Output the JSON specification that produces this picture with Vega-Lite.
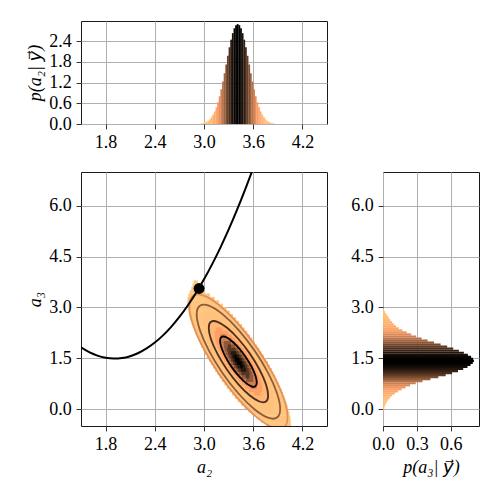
{
  "$schema": "https://vega.github.io/schema/vega-lite/v6.json",
  "background": "white",
  "padding": {"left": 25, "top": 20, "right": 0, "bottom": 0},
  "bounds": "flush",
  "columns": 2,
  "spacing": {"row": 48, "column": 56},
  "datasets": {
    "top": [
      {"lo":2.96,"hi":2.982,"f":0.017,"c":0.006},{"lo":2.98,"hi":3.002,"f":0.027,"c":0.009},{"lo":3.00,"hi":3.022,"f":0.042,"c":0.015},{"lo":3.02,"hi":3.042,"f":0.064,"c":0.022},{"lo":3.04,"hi":3.062,"f":0.094,"c":0.032},{"lo":3.06,"hi":3.082,"f":0.136,"c":0.047},{"lo":3.08,"hi":3.102,"f":0.193,"c":0.067},{"lo":3.10,"hi":3.122,"f":0.268,"c":0.092},{"lo":3.12,"hi":3.142,"f":0.364,"c":0.126},{"lo":3.14,"hi":3.162,"f":0.485,"c":0.167},{"lo":3.16,"hi":3.182,"f":0.632,"c":0.218},{"lo":3.18,"hi":3.202,"f":0.806,"c":0.278},{"lo":3.20,"hi":3.222,"f":1.007,"c":0.347},{"lo":3.22,"hi":3.242,"f":1.231,"c":0.424},{"lo":3.24,"hi":3.262,"f":1.473,"c":0.508},{"lo":3.26,"hi":3.282,"f":1.727,"c":0.595},{"lo":3.28,"hi":3.302,"f":1.981,"c":0.683},{"lo":3.30,"hi":3.322,"f":2.226,"c":0.768},{"lo":3.32,"hi":3.342,"f":2.448,"c":0.844},{"lo":3.34,"hi":3.362,"f":2.637,"c":0.909},{"lo":3.36,"hi":3.382,"f":2.780,"c":0.959},{"lo":3.38,"hi":3.402,"f":2.869,"c":0.989},{"lo":3.40,"hi":3.422,"f":2.900,"c":1.0},{"lo":3.42,"hi":3.442,"f":2.869,"c":0.989},{"lo":3.44,"hi":3.462,"f":2.780,"c":0.959},{"lo":3.46,"hi":3.482,"f":2.637,"c":0.909},{"lo":3.48,"hi":3.502,"f":2.448,"c":0.844},{"lo":3.50,"hi":3.522,"f":2.226,"c":0.768},{"lo":3.52,"hi":3.542,"f":1.981,"c":0.683},{"lo":3.54,"hi":3.562,"f":1.727,"c":0.595},{"lo":3.56,"hi":3.582,"f":1.473,"c":0.508},{"lo":3.58,"hi":3.602,"f":1.231,"c":0.424},{"lo":3.60,"hi":3.622,"f":1.007,"c":0.347},{"lo":3.62,"hi":3.642,"f":0.806,"c":0.278},{"lo":3.64,"hi":3.662,"f":0.632,"c":0.218},{"lo":3.66,"hi":3.682,"f":0.485,"c":0.167},{"lo":3.68,"hi":3.702,"f":0.364,"c":0.126},{"lo":3.70,"hi":3.722,"f":0.268,"c":0.092},{"lo":3.72,"hi":3.742,"f":0.193,"c":0.067},{"lo":3.74,"hi":3.762,"f":0.136,"c":0.047},{"lo":3.76,"hi":3.782,"f":0.094,"c":0.032},{"lo":3.78,"hi":3.802,"f":0.064,"c":0.022},{"lo":3.80,"hi":3.822,"f":0.042,"c":0.015},{"lo":3.82,"hi":3.842,"f":0.027,"c":0.009},{"lo":3.84,"hi":3.862,"f":0.017,"c":0.006}
    ],
    "side": [
      {"lo":-0.05,"hi":0.015,"f":0.006,"c":0.008},{"lo":0.01,"hi":0.075,"f":0.013,"c":0.016},{"lo":0.07,"hi":0.135,"f":0.019,"c":0.024},{"lo":0.13,"hi":0.195,"f":0.026,"c":0.033},{"lo":0.19,"hi":0.255,"f":0.035,"c":0.044},{"lo":0.25,"hi":0.315,"f":0.048,"c":0.06},{"lo":0.31,"hi":0.375,"f":0.063,"c":0.079},{"lo":0.37,"hi":0.435,"f":0.082,"c":0.103},{"lo":0.43,"hi":0.495,"f":0.105,"c":0.131},{"lo":0.49,"hi":0.555,"f":0.133,"c":0.166},{"lo":0.55,"hi":0.615,"f":0.165,"c":0.206},{"lo":0.61,"hi":0.675,"f":0.200,"c":0.25},{"lo":0.67,"hi":0.735,"f":0.240,"c":0.30},{"lo":0.73,"hi":0.795,"f":0.290,"c":0.363},{"lo":0.79,"hi":0.855,"f":0.350,"c":0.438},{"lo":0.85,"hi":0.915,"f":0.420,"c":0.525},{"lo":0.91,"hi":0.975,"f":0.490,"c":0.613},{"lo":0.97,"hi":1.035,"f":0.555,"c":0.694},{"lo":1.03,"hi":1.095,"f":0.612,"c":0.765},{"lo":1.09,"hi":1.155,"f":0.664,"c":0.83},{"lo":1.15,"hi":1.215,"f":0.710,"c":0.888},{"lo":1.21,"hi":1.275,"f":0.748,"c":0.935},{"lo":1.27,"hi":1.335,"f":0.775,"c":0.969},{"lo":1.33,"hi":1.395,"f":0.795,"c":0.994},{"lo":1.39,"hi":1.455,"f":0.805,"c":1.0},{"lo":1.45,"hi":1.515,"f":0.798,"c":0.991},{"lo":1.51,"hi":1.575,"f":0.780,"c":0.969},{"lo":1.57,"hi":1.635,"f":0.752,"c":0.934},{"lo":1.63,"hi":1.695,"f":0.716,"c":0.889},{"lo":1.69,"hi":1.755,"f":0.672,"c":0.835},{"lo":1.75,"hi":1.815,"f":0.622,"c":0.773},{"lo":1.81,"hi":1.875,"f":0.568,"c":0.706},{"lo":1.87,"hi":1.935,"f":0.510,"c":0.634},{"lo":1.93,"hi":1.995,"f":0.452,"c":0.561},{"lo":1.99,"hi":2.055,"f":0.395,"c":0.491},{"lo":2.05,"hi":2.115,"f":0.342,"c":0.425},{"lo":2.11,"hi":2.175,"f":0.293,"c":0.364},{"lo":2.17,"hi":2.235,"f":0.250,"c":0.311},{"lo":2.23,"hi":2.295,"f":0.210,"c":0.261},{"lo":2.29,"hi":2.355,"f":0.172,"c":0.214},{"lo":2.35,"hi":2.415,"f":0.140,"c":0.174},{"lo":2.41,"hi":2.475,"f":0.115,"c":0.143},{"lo":2.47,"hi":2.535,"f":0.096,"c":0.119},{"lo":2.53,"hi":2.595,"f":0.080,"c":0.099},{"lo":2.59,"hi":2.655,"f":0.066,"c":0.082},{"lo":2.65,"hi":2.715,"f":0.053,"c":0.066},{"lo":2.71,"hi":2.775,"f":0.041,"c":0.051},{"lo":2.77,"hi":2.835,"f":0.030,"c":0.037},{"lo":2.83,"hi":2.895,"f":0.018,"c":0.022},{"lo":2.89,"hi":2.95,"f":0.008,"c":0.01}
    ],
    "heat": [
      {"y1":-0.5,"y2":-0.39,"x1":3.760,"x2":4.060,"c":0.01},
      {"y1":-0.4,"y2":-0.29,"x1":3.700,"x2":4.058,"c":0.01},
      {"y1":-0.3,"y2":-0.19,"x1":3.645,"x2":4.052,"c":0.01},
      {"y1":-0.2,"y2":-0.09,"x1":3.592,"x2":4.044,"c":0.01},
      {"y1":-0.1,"y2":0.01,"x1":3.542,"x2":4.034,"c":0.01},{"y1":-0.1,"y2":0.01,"x1":3.736,"x2":3.816,"c":0.03},
      {"y1":0.0,"y2":0.11,"x1":3.495,"x2":4.022,"c":0.01},{"y1":0.0,"y2":0.11,"x1":3.656,"x2":3.848,"c":0.03},
      {"y1":0.1,"y2":0.21,"x1":3.450,"x2":4.008,"c":0.01},{"y1":0.1,"y2":0.21,"x1":3.599,"x2":3.855,"c":0.03},
      {"y1":0.2,"y2":0.31,"x1":3.411,"x2":3.994,"c":0.01},{"y1":0.2,"y2":0.31,"x1":3.551,"x2":3.854,"c":0.03},{"y1":0.2,"y2":0.31,"x1":3.633,"x2":3.772,"c":0.08},
      {"y1":0.3,"y2":0.41,"x1":3.376,"x2":3.979,"c":0.01},{"y1":0.3,"y2":0.41,"x1":3.508,"x2":3.848,"c":0.03},{"y1":0.3,"y2":0.41,"x1":3.574,"x2":3.782,"c":0.08},
      {"y1":0.4,"y2":0.51,"x1":3.343,"x2":3.964,"c":0.01},{"y1":0.4,"y2":0.51,"x1":3.468,"x2":3.839,"c":0.03},{"y1":0.4,"y2":0.51,"x1":3.526,"x2":3.781,"c":0.08},{"y1":0.4,"y2":0.51,"x1":3.614,"x2":3.693,"c":0.2},
      {"y1":0.5,"y2":0.61,"x1":3.311,"x2":3.947,"c":0.01},{"y1":0.5,"y2":0.61,"x1":3.431,"x2":3.827,"c":0.03},{"y1":0.5,"y2":0.61,"x1":3.483,"x2":3.774,"c":0.08},{"y1":0.5,"y2":0.61,"x1":3.548,"x2":3.709,"c":0.2},
      {"y1":0.6,"y2":0.71,"x1":3.279,"x2":3.929,"c":0.01},{"y1":0.6,"y2":0.71,"x1":3.396,"x2":3.813,"c":0.03},{"y1":0.6,"y2":0.71,"x1":3.444,"x2":3.764,"c":0.08},{"y1":0.6,"y2":0.71,"x1":3.500,"x2":3.708,"c":0.2},{"y1":0.6,"y2":0.71,"x1":3.567,"x2":3.642,"c":0.36},
      {"y1":0.7,"y2":0.81,"x1":3.249,"x2":3.910,"c":0.01},{"y1":0.7,"y2":0.81,"x1":3.362,"x2":3.797,"c":0.03},{"y1":0.7,"y2":0.81,"x1":3.408,"x2":3.751,"c":0.08},{"y1":0.7,"y2":0.81,"x1":3.459,"x2":3.701,"c":0.2},{"y1":0.7,"y2":0.81,"x1":3.507,"x2":3.652,"c":0.36},
      {"y1":0.8,"y2":0.91,"x1":3.219,"x2":3.891,"c":0.01},{"y1":0.8,"y2":0.91,"x1":3.330,"x2":3.780,"c":0.03},{"y1":0.8,"y2":0.91,"x1":3.374,"x2":3.736,"c":0.08},{"y1":0.8,"y2":0.91,"x1":3.421,"x2":3.689,"c":0.2},{"y1":0.8,"y2":0.91,"x1":3.463,"x2":3.647,"c":0.36},{"y1":0.8,"y2":0.91,"x1":3.511,"x2":3.600,"c":0.55},
      {"y1":0.9,"y2":1.01,"x1":3.191,"x2":3.870,"c":0.01},{"y1":0.9,"y2":1.01,"x1":3.300,"x2":3.762,"c":0.03},{"y1":0.9,"y2":1.01,"x1":3.342,"x2":3.719,"c":0.08},{"y1":0.9,"y2":1.01,"x1":3.387,"x2":3.674,"c":0.2},{"y1":0.9,"y2":1.01,"x1":3.425,"x2":3.637,"c":0.36},{"y1":0.9,"y2":1.01,"x1":3.462,"x2":3.599,"c":0.55},{"y1":0.9,"y2":1.01,"x1":3.511,"x2":3.550,"c":0.73},
      {"y1":1.0,"y2":1.11,"x1":3.163,"x2":3.849,"c":0.01},{"y1":1.0,"y2":1.11,"x1":3.270,"x2":3.742,"c":0.03},{"y1":1.0,"y2":1.11,"x1":3.312,"x2":3.700,"c":0.08},{"y1":1.0,"y2":1.11,"x1":3.355,"x2":3.657,"c":0.2},{"y1":1.0,"y2":1.11,"x1":3.390,"x2":3.622,"c":0.36},{"y1":1.0,"y2":1.11,"x1":3.423,"x2":3.589,"c":0.55},{"y1":1.0,"y2":1.11,"x1":3.455,"x2":3.557,"c":0.73},
      {"y1":1.1,"y2":1.21,"x1":3.136,"x2":3.827,"c":0.01},{"y1":1.1,"y2":1.21,"x1":3.242,"x2":3.721,"c":0.03},{"y1":1.1,"y2":1.21,"x1":3.284,"x2":3.679,"c":0.08},{"y1":1.1,"y2":1.21,"x1":3.325,"x2":3.638,"c":0.2},{"y1":1.1,"y2":1.21,"x1":3.359,"x2":3.604,"c":0.36},{"y1":1.1,"y2":1.21,"x1":3.389,"x2":3.574,"c":0.55},{"y1":1.1,"y2":1.21,"x1":3.417,"x2":3.546,"c":0.73},{"y1":1.1,"y2":1.21,"x1":3.449,"x2":3.514,"c":0.88},
      {"y1":1.2,"y2":1.31,"x1":3.110,"x2":3.804,"c":0.01},{"y1":1.2,"y2":1.31,"x1":3.215,"x2":3.698,"c":0.03},{"y1":1.2,"y2":1.31,"x1":3.256,"x2":3.658,"c":0.08},{"y1":1.2,"y2":1.31,"x1":3.297,"x2":3.617,"c":0.2},{"y1":1.2,"y2":1.31,"x1":3.330,"x2":3.584,"c":0.36},{"y1":1.2,"y2":1.31,"x1":3.359,"x2":3.555,"c":0.55},{"y1":1.2,"y2":1.31,"x1":3.384,"x2":3.530,"c":0.73},{"y1":1.2,"y2":1.31,"x1":3.410,"x2":3.503,"c":0.88},{"y1":1.2,"y2":1.31,"x1":3.443,"x2":3.471,"c":1.0},
      {"y1":1.3,"y2":1.41,"x1":3.085,"x2":3.780,"c":0.01},{"y1":1.3,"y2":1.41,"x1":3.190,"x2":3.675,"c":0.03},{"y1":1.3,"y2":1.41,"x1":3.230,"x2":3.634,"c":0.08},{"y1":1.3,"y2":1.41,"x1":3.271,"x2":3.594,"c":0.2},{"y1":1.3,"y2":1.41,"x1":3.303,"x2":3.561,"c":0.36},{"y1":1.3,"y2":1.41,"x1":3.332,"x2":3.533,"c":0.55},{"y1":1.3,"y2":1.41,"x1":3.356,"x2":3.509,"c":0.73},{"y1":1.3,"y2":1.41,"x1":3.380,"x2":3.484,"c":0.88},{"y1":1.3,"y2":1.41,"x1":3.405,"x2":3.459,"c":1.0},
      {"y1":1.4,"y2":1.51,"x1":3.060,"x2":3.755,"c":0.01},{"y1":1.4,"y2":1.51,"x1":3.165,"x2":3.650,"c":0.03},{"y1":1.4,"y2":1.51,"x1":3.206,"x2":3.610,"c":0.08},{"y1":1.4,"y2":1.51,"x1":3.246,"x2":3.569,"c":0.2},{"y1":1.4,"y2":1.51,"x1":3.279,"x2":3.537,"c":0.36},{"y1":1.4,"y2":1.51,"x1":3.307,"x2":3.509,"c":0.55},{"y1":1.4,"y2":1.51,"x1":3.331,"x2":3.484,"c":0.73},{"y1":1.4,"y2":1.51,"x1":3.356,"x2":3.460,"c":0.88},{"y1":1.4,"y2":1.51,"x1":3.381,"x2":3.435,"c":1.0},
      {"y1":1.5,"y2":1.61,"x1":3.036,"x2":3.730,"c":0.01},{"y1":1.5,"y2":1.61,"x1":3.142,"x2":3.625,"c":0.03},{"y1":1.5,"y2":1.61,"x1":3.183,"x2":3.584,"c":0.08},{"y1":1.5,"y2":1.61,"x1":3.223,"x2":3.543,"c":0.2},{"y1":1.5,"y2":1.61,"x1":3.256,"x2":3.510,"c":0.36},{"y1":1.5,"y2":1.61,"x1":3.285,"x2":3.481,"c":0.55},{"y1":1.5,"y2":1.61,"x1":3.311,"x2":3.456,"c":0.73},{"y1":1.5,"y2":1.61,"x1":3.337,"x2":3.430,"c":0.88},{"y1":1.5,"y2":1.61,"x1":3.370,"x2":3.397,"c":1.0},
      {"y1":1.6,"y2":1.71,"x1":3.013,"x2":3.704,"c":0.01},{"y1":1.6,"y2":1.71,"x1":3.120,"x2":3.598,"c":0.03},{"y1":1.6,"y2":1.71,"x1":3.161,"x2":3.557,"c":0.08},{"y1":1.6,"y2":1.71,"x1":3.202,"x2":3.515,"c":0.2},{"y1":1.6,"y2":1.71,"x1":3.236,"x2":3.481,"c":0.36},{"y1":1.6,"y2":1.71,"x1":3.266,"x2":3.451,"c":0.55},{"y1":1.6,"y2":1.71,"x1":3.294,"x2":3.423,"c":0.73},{"y1":1.6,"y2":1.71,"x1":3.326,"x2":3.391,"c":0.88},
      {"y1":1.7,"y2":1.81,"x1":2.991,"x2":3.677,"c":0.01},{"y1":1.7,"y2":1.81,"x1":3.098,"x2":3.570,"c":0.03},{"y1":1.7,"y2":1.81,"x1":3.140,"x2":3.528,"c":0.08},{"y1":1.7,"y2":1.81,"x1":3.183,"x2":3.485,"c":0.2},{"y1":1.7,"y2":1.81,"x1":3.218,"x2":3.450,"c":0.36},{"y1":1.7,"y2":1.81,"x1":3.251,"x2":3.417,"c":0.55},{"y1":1.7,"y2":1.81,"x1":3.283,"x2":3.385,"c":0.73},
      {"y1":1.8,"y2":1.91,"x1":2.970,"x2":3.649,"c":0.01},{"y1":1.8,"y2":1.91,"x1":3.079,"x2":3.541,"c":0.03},{"y1":1.8,"y2":1.91,"x1":3.121,"x2":3.498,"c":0.08},{"y1":1.8,"y2":1.91,"x1":3.166,"x2":3.453,"c":0.2},{"y1":1.8,"y2":1.91,"x1":3.204,"x2":3.416,"c":0.36},{"y1":1.8,"y2":1.91,"x1":3.241,"x2":3.378,"c":0.55},{"y1":1.8,"y2":1.91,"x1":3.290,"x2":3.329,"c":0.73},
      {"y1":1.9,"y2":2.01,"x1":2.949,"x2":3.621,"c":0.01},{"y1":1.9,"y2":2.01,"x1":3.060,"x2":3.510,"c":0.03},{"y1":1.9,"y2":2.01,"x1":3.104,"x2":3.466,"c":0.08},{"y1":1.9,"y2":2.01,"x1":3.151,"x2":3.419,"c":0.2},{"y1":1.9,"y2":2.01,"x1":3.193,"x2":3.377,"c":0.36},{"y1":1.9,"y2":2.01,"x1":3.240,"x2":3.329,"c":0.55},
      {"y1":2.0,"y2":2.11,"x1":2.930,"x2":3.591,"c":0.01},{"y1":2.0,"y2":2.11,"x1":3.043,"x2":3.478,"c":0.03},{"y1":2.0,"y2":2.11,"x1":3.089,"x2":3.432,"c":0.08},{"y1":2.0,"y2":2.11,"x1":3.139,"x2":3.382,"c":0.2},{"y1":2.0,"y2":2.11,"x1":3.188,"x2":3.333,"c":0.36},
      {"y1":2.1,"y2":2.21,"x1":2.911,"x2":3.561,"c":0.01},{"y1":2.1,"y2":2.21,"x1":3.027,"x2":3.445,"c":0.03},{"y1":2.1,"y2":2.21,"x1":3.076,"x2":3.396,"c":0.08},{"y1":2.1,"y2":2.21,"x1":3.132,"x2":3.340,"c":0.2},{"y1":2.1,"y2":2.21,"x1":3.198,"x2":3.274,"c":0.36},
      {"y1":2.2,"y2":2.31,"x1":2.893,"x2":3.529,"c":0.01},{"y1":2.2,"y2":2.31,"x1":3.013,"x2":3.409,"c":0.03},{"y1":2.2,"y2":2.31,"x1":3.066,"x2":3.357,"c":0.08},{"y1":2.2,"y2":2.31,"x1":3.131,"x2":3.292,"c":0.2},
      {"y1":2.3,"y2":2.41,"x1":2.876,"x2":3.497,"c":0.01},{"y1":2.3,"y2":2.41,"x1":3.002,"x2":3.372,"c":0.03},{"y1":2.3,"y2":2.41,"x1":3.059,"x2":3.314,"c":0.08},{"y1":2.3,"y2":2.41,"x1":3.147,"x2":3.226,"c":0.2},
      {"y1":2.4,"y2":2.51,"x1":2.861,"x2":3.464,"c":0.01},{"y1":2.4,"y2":2.51,"x1":2.992,"x2":3.332,"c":0.03},{"y1":2.4,"y2":2.51,"x1":3.058,"x2":3.266,"c":0.08},
      {"y1":2.5,"y2":2.61,"x1":2.846,"x2":3.429,"c":0.01},{"y1":2.5,"y2":2.61,"x1":2.987,"x2":3.289,"c":0.03},{"y1":2.5,"y2":2.61,"x1":3.068,"x2":3.207,"c":0.08},
      {"y1":2.6,"y2":2.71,"x1":2.833,"x2":3.393,"c":0.01},{"y1":2.6,"y2":2.71,"x1":2.985,"x2":3.241,"c":0.03},
      {"y1":2.7,"y2":2.81,"x1":2.821,"x2":3.355,"c":0.01},{"y1":2.7,"y2":2.81,"x1":2.992,"x2":3.184,"c":0.03},
      {"y1":2.8,"y2":2.91,"x1":2.812,"x2":3.316,"c":0.01},{"y1":2.8,"y2":2.91,"x1":3.024,"x2":3.104,"c":0.03},
      {"y1":2.9,"y2":3.01,"x1":2.804,"x2":3.275,"c":0.01},
      {"y1":3.0,"y2":3.11,"x1":2.798,"x2":3.231,"c":0.01},
      {"y1":3.1,"y2":3.21,"x1":2.797,"x2":3.184,"c":0.01},
      {"y1":3.2,"y2":3.31,"x1":2.799,"x2":3.132,"c":0.01},
      {"y1":3.3,"y2":3.41,"x1":2.809,"x2":3.073,"c":0.01},
      {"y1":3.4,"y2":3.51,"x1":2.826,"x2":3.010,"c":0.01},
      {"y1":3.5,"y2":3.61,"x1":2.845,"x2":2.975,"c":0.01},
      {"y1":3.6,"y2":3.71,"x1":2.860,"x2":2.950,"c":0.01},
      {"y1":3.7,"y2":3.8,"x1":2.875,"x2":2.925,"c":0.01}
    ],
    "contours": [
      {"lev":"r1","i":0,"a2":3.644,"a3":0.784},{"lev":"r1","i":1,"a2":3.627,"a3":0.989},{"lev":"r1","i":2,"a2":3.579,"a3":1.257},{"lev":"r1","i":3,"a2":3.506,"a3":1.547},{"lev":"r1","i":4,"a2":3.420,"a3":1.814},{"lev":"r1","i":5,"a2":3.334,"a3":2.018},{"lev":"r1","i":6,"a2":3.262,"a3":2.129},{"lev":"r1","i":7,"a2":3.213,"a3":2.128},{"lev":"r1","i":8,"a2":3.196,"a3":2.016},{"lev":"r1","i":9,"a2":3.213,"a3":1.811},{"lev":"r1","i":10,"a2":3.262,"a3":1.543},{"lev":"r1","i":11,"a2":3.334,"a3":1.253},{"lev":"r1","i":12,"a2":3.420,"a3":0.986},{"lev":"r1","i":13,"a2":3.506,"a3":0.782},{"lev":"r1","i":14,"a2":3.579,"a3":0.671},{"lev":"r1","i":15,"a2":3.627,"a3":0.672},
      {"lev":"r2","i":0,"a2":3.782,"a3":0.404},{"lev":"r2","i":1,"a2":3.755,"a3":0.736},{"lev":"r2","i":2,"a2":3.676,"a3":1.169},{"lev":"r2","i":3,"a2":3.559,"a3":1.637},{"lev":"r2","i":4,"a2":3.420,"a3":2.069},{"lev":"r2","i":5,"a2":3.281,"a3":2.399},{"lev":"r2","i":6,"a2":3.164,"a3":2.577},{"lev":"r2","i":7,"a2":3.085,"a3":2.576},{"lev":"r2","i":8,"a2":3.058,"a3":2.396},{"lev":"r2","i":9,"a2":3.085,"a3":2.064},{"lev":"r2","i":10,"a2":3.164,"a3":1.631},{"lev":"r2","i":11,"a2":3.281,"a3":1.163},{"lev":"r2","i":12,"a2":3.420,"a3":0.731},{"lev":"r2","i":13,"a2":3.559,"a3":0.401},{"lev":"r2","i":14,"a2":3.676,"a3":0.223},{"lev":"r2","i":15,"a2":3.755,"a3":0.224},
      {"lev":"r3","i":0,"a2":3.929,"a3":0.001},{"lev":"r3","i":1,"a2":3.890,"a3":0.468},{"lev":"r3","i":2,"a2":3.780,"a3":1.076},{"lev":"r3","i":3,"a2":3.615,"a3":1.733},{"lev":"r3","i":4,"a2":3.420,"a3":2.340},{"lev":"r3","i":5,"a2":3.225,"a3":2.804},{"lev":"r3","i":6,"a2":3.060,"a3":3.054},{"lev":"r3","i":7,"a2":2.950,"a3":3.052},{"lev":"r3","i":8,"a2":2.911,"a3":2.799},{"lev":"r3","i":9,"a2":2.950,"a3":2.332},{"lev":"r3","i":10,"a2":3.060,"a3":1.724},{"lev":"r3","i":11,"a2":3.225,"a3":1.067},{"lev":"r3","i":12,"a2":3.420,"a3":0.460},{"lev":"r3","i":13,"a2":3.615,"a3":-0.004},{"lev":"r3","i":14,"a2":3.780,"a3":-0.254},{"lev":"r3","i":15,"a2":3.890,"a3":-0.252},
      {"lev":"r4","i":0,"a2":4.019,"a3":-0.247},{"lev":"r4","i":1,"a2":3.974,"a3":0.302},{"lev":"r4","i":2,"a2":3.844,"a3":1.018},{"lev":"r4","i":3,"a2":3.649,"a3":1.792},{"lev":"r4","i":4,"a2":3.420,"a3":2.507},{"lev":"r4","i":5,"a2":3.191,"a3":3.053},{"lev":"r4","i":6,"a2":2.996,"a3":3.347},{"lev":"r4","i":7,"a2":2.866,"a3":3.345},{"lev":"r4","i":8,"a2":2.821,"a3":3.047},{"lev":"r4","i":9,"a2":2.866,"a3":2.498},{"lev":"r4","i":10,"a2":2.996,"a3":1.782},{"lev":"r4","i":11,"a2":3.191,"a3":1.008},{"lev":"r4","i":12,"a2":3.420,"a3":0.293},{"lev":"r4","i":13,"a2":3.649,"a3":-0.253},{"lev":"r4","i":14,"a2":3.844,"a3":-0.547},{"lev":"r4","i":15,"a2":3.974,"a3":-0.545}
    ],
    "curve": [
      {"a2":1.5,"a3":1.821},{"a2":1.6,"a3":1.679},{"a2":1.7,"a3":1.577},{"a2":1.8,"a3":1.514},{"a2":1.9,"a3":1.490},{"a2":2.0,"a3":1.506},{"a2":2.1,"a3":1.561},{"a2":2.2,"a3":1.656},{"a2":2.3,"a3":1.790},{"a2":2.4,"a3":1.963},{"a2":2.5,"a3":2.176},{"a2":2.6,"a3":2.428},{"a2":2.7,"a3":2.719},{"a2":2.8,"a3":3.050},{"a2":2.9,"a3":3.421},{"a2":3.0,"a3":3.831},{"a2":3.1,"a3":4.280},{"a2":3.2,"a3":4.768},{"a2":3.3,"a3":5.296},{"a2":3.4,"a3":5.864},{"a2":3.5,"a3":6.470},{"a2":3.6,"a3":7.116}
    ],
    "dot": [{"a2":2.94,"a3":3.56}]
  },
  "concat": [
    {
      "width": 246, "height": 103,
      "data": {"name": "top"},
      "mark": {"type": "rect"},
      "encoding": {
        "x": {"field": "lo", "type": "quantitative", "scale": {"domain": [1.5, 4.5], "nice": false, "zero": false}, "axis": {"values": [1.8, 2.4, 3.0, 3.6, 4.2], "format": ".1f", "title": null}},
        "x2": {"field": "hi"},
        "y": {"field": "f", "type": "quantitative", "scale": {"domain": [0, 2.99], "nice": false}, "axis": {"values": [0, 0.6, 1.2, 1.8, 2.4], "format": ".1f", "title": "p(a₂| y⃗)"}},
        "y2": {"datum": 0},
        "fill": {"field": "c", "type": "quantitative", "scale": {"domain": [0, 0.2, 1], "range": ["#ffc77f", "#ff9f65", "#000000"], "interpolate": "rgb"}, "legend": null}
      }
    },
    {
      "width": 96, "height": 103,
      "view": {"stroke": null},
      "data": {"values": []},
      "mark": "point"
    },
    {
      "width": 246, "height": 254,
      "layer": [
        {
          "data": {"name": "heat"},
          "mark": {"type": "rect", "clip": true},
          "encoding": {
            "x": {"field": "x1", "type": "quantitative", "scale": {"domain": [1.5, 4.5], "nice": false, "zero": false}, "axis": {"values": [1.8, 2.4, 3.0, 3.6, 4.2], "format": ".1f", "title": "a₂"}},
            "x2": {"field": "x2"},
            "y": {"field": "y1", "type": "quantitative", "scale": {"domain": [-0.5, 7], "nice": false, "zero": false}, "axis": {"values": [0, 1.5, 3, 4.5, 6], "format": ".1f", "title": "a₃"}},
            "y2": {"field": "y2"},
            "fill": {"field": "c", "type": "quantitative", "scale": {"domain": [0, 0.2, 1], "range": ["#ffc77f", "#ff9f65", "#000000"], "interpolate": "rgb"}, "legend": null},
            "order": {"field": "c", "type": "quantitative"}
          }
        },
        {
          "data": {"name": "contours"},
          "mark": {"type": "line", "interpolate": "cardinal-closed", "strokeWidth": 1.8, "clip": true},
          "encoding": {
            "x": {"field": "a2", "type": "quantitative", "scale": {"domain": [1.5, 4.5], "nice": false, "zero": false}},
            "y": {"field": "a3", "type": "quantitative", "scale": {"domain": [-0.5, 7], "nice": false, "zero": false}},
            "stroke": {"field": "lev", "type": "nominal", "scale": {"domain": ["r1", "r2", "r3", "r4"], "range": ["#000000", "#4d2e1c", "#8f5b38", "#e2915a"]}, "legend": null},
            "order": {"field": "i", "type": "quantitative"}
          }
        },
        {
          "data": {"name": "curve"},
          "mark": {"type": "line", "color": "#000000", "strokeWidth": 2, "clip": true, "interpolate": "monotone"},
          "encoding": {
            "x": {"field": "a2", "type": "quantitative", "scale": {"domain": [1.5, 4.5], "nice": false, "zero": false}},
            "y": {"field": "a3", "type": "quantitative", "scale": {"domain": [-0.5, 7], "nice": false, "zero": false}}
          }
        },
        {
          "data": {"name": "dot"},
          "mark": {"type": "circle", "size": 120, "color": "#000000", "opacity": 1},
          "encoding": {
            "x": {"field": "a2", "type": "quantitative", "scale": {"domain": [1.5, 4.5], "nice": false, "zero": false}},
            "y": {"field": "a3", "type": "quantitative", "scale": {"domain": [-0.5, 7], "nice": false, "zero": false}}
          }
        }
      ]
    },
    {
      "width": 96, "height": 254,
      "data": {"name": "side"},
      "mark": {"type": "rect"},
      "encoding": {
        "x": {"field": "f", "type": "quantitative", "scale": {"domain": [0, 0.85], "nice": false}, "axis": {"values": [0, 0.3, 0.6], "format": ".1f", "title": "p(a₃| y⃗)"}},
        "x2": {"datum": 0},
        "y": {"field": "lo", "type": "quantitative", "scale": {"domain": [-0.5, 7], "nice": false, "zero": false}, "axis": {"values": [0, 1.5, 3, 4.5, 6], "format": ".1f", "title": null}},
        "y2": {"field": "hi"},
        "fill": {"field": "c", "type": "quantitative", "scale": {"domain": [0, 0.2, 1], "range": ["#ffc77f", "#ff9f65", "#000000"], "interpolate": "rgb"}, "legend": null}
      }
    }
  ],
  "config": {
    "font": "'Liberation Serif', 'DejaVu Serif', serif",
    "view": {"stroke": "#1a1a1a", "strokeWidth": 1},
    "axis": {
      "domain": false,
      "grid": true,
      "gridColor": "#b0b0b0",
      "gridWidth": 1,
      "tickColor": "#000000",
      "tickSize": 4.9,
      "tickWidth": 0.8,
      "labelPadding": 4.9,
      "labelFont": "'Liberation Serif', 'DejaVu Serif', serif",
      "labelFontSize": 18,
      "labelColor": "#000000",
      "labelFlush": false,
      "labelOverlap": false,
      "titleFont": "'Liberation Serif', 'DejaVu Serif', 'DejaVu Sans', serif",
      "titleFontSize": 18,
      "titleFontWeight": "normal",
      "titleFontStyle": "italic",
      "titleColor": "#000000",
      "titlePadding": 4.7,
      "zindex": 1
    }
  }
}
